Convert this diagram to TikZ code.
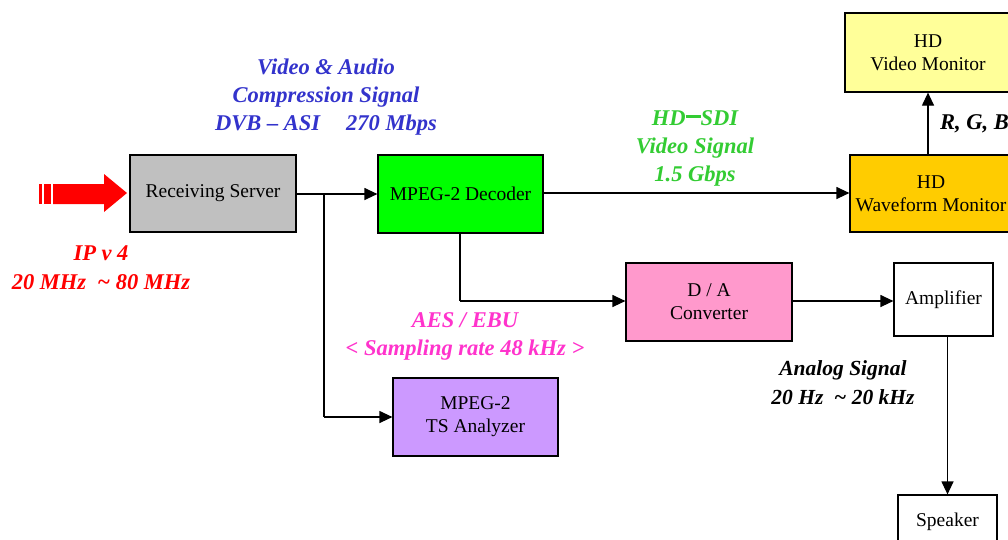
\documentclass[tikz,border=0pt]{standalone}
\usepackage{fontspec}
\setmainfont{Liberation Serif}
\usetikzlibrary{arrows.meta}
\definecolor{lblblue}{RGB}{51,51,204}
\definecolor{lblgreen}{RGB}{51,204,51}
\definecolor{lblpink}{RGB}{255,51,204}
\definecolor{fgray}{RGB}{192,192,192}
\definecolor{fgreen}{RGB}{0,255,0}
\definecolor{fpurple}{RGB}{204,153,255}
\definecolor{fpink}{RGB}{255,153,204}
\definecolor{fyellow}{RGB}{255,255,153}
\definecolor{fgold}{RGB}{255,204,0}
\tikzset{
  blk/.style={draw=black, line width=1.2pt, inner sep=0pt, align=center,
    font=\fontsize{19.5}{23}\selectfont},
  lbl/.style={align=center, inner sep=0pt,
    font=\fontsize{22.5}{28}\selectfont\bfseries\itshape},
  conn/.style={line width=1.2pt, -{Triangle[length=13pt,width=12pt]}},
  plain/.style={line width=1.2pt},
}
\begin{document}
\begin{tikzpicture}[x=1pt,y=-1pt]
\clip (0,0) rectangle (1008,539);
\fill[white] (0,0) rectangle (1008,539);

% boxes
\node[blk, fill=fgray, minimum width=166pt, minimum height=77pt] (rs) at (213,193.5) {Receiving Server};
\node[blk, fill=fgreen, minimum width=165pt, minimum height=78pt] (dec) at (460.5,194) {MPEG-2 Decoder};
\node[blk, fill=fpurple, minimum width=165pt, minimum height=78pt] (ts) at (475.5,417) {MPEG-2\\TS Analyzer};
\node[blk, fill=fpink, minimum width=166pt, minimum height=78pt] (da) at (709,302) {D / A\\Converter};
\node[blk, fill=white, minimum width=99pt, minimum height=73pt] (amp) at (943.5,299.5) {Amplifier};
\node[blk, fill=white, minimum width=99pt, minimum height=54pt] (spk) at (947.5,522) {Speaker};
\node[blk, fill=fyellow, minimum width=166pt, minimum height=79pt] (vm) at (928,52.5) {HD\\Video Monitor};
\node[blk, fill=fgold, minimum width=162pt, minimum height=77pt] (wf) at (931,193.5) {HD\\Waveform Monitor};

% red input arrow
\fill[red] (53,184) -- (104,184) -- (104,174) -- (127,193) -- (104,212) -- (104,204) -- (53,204) -- cycle;
\fill[red] (39,184) rectangle (42,204);
\fill[red] (43.5,184) rectangle (51,204);

% connectors
\coordinate (j1) at (324,194);
\draw[conn] (rs.east |- j1) -- (dec.west |- j1);
\draw[plain] (j1) -- (j1 |- ts.west);
\draw[conn] (j1 |- ts.west) -- (ts.west);
\coordinate (j2) at (460,301);
\draw[plain] (dec.south -| j2) -- (j2);
\draw[conn] (j2) -- (da.west |- j2);
\draw[conn] (dec.east |- 0,193) -- (wf.west |- 0,193);
\draw[conn] (vm.south |- wf.north) -- (vm.south);
\draw[conn] (da.east |- 0,301) -- (amp.west |- 0,301);
\draw[conn] (spk.north |- amp.south) -- (spk.north);

% labels
\node[lbl, text=lblblue] (lblue) at (326,97) {Video \& Audio\\Compression Signal\\DVB – ASI\hspace{26pt}270 Mbps};
\node[lbl, text=lblgreen] (lgreen) at (695,148) {HD\raisebox{7pt}{\rule{15pt}{3pt}}SDI\\Video Signal\\1.5 Gbps};
\node[lbl, text=lblpink] (lpink) at (465,336) {AES / EBU\\< Sampling rate 48 kHz >};
\node[lbl, text=black, font=\fontsize{21.5}{29}\selectfont\bfseries\itshape] (lanalog) at (843,383) {Analog Signal\\20 Hz \ \textasciitilde\ 20 kHz};
\node[lbl, text=red, font=\fontsize{22.5}{29}\selectfont\bfseries\itshape] (lred) at (101,268) {IP v 4\\20 MHz \ \textasciitilde\ 80 MHz};
\node[lbl, text=black, anchor=west] (lrgb) at (940,124) {R, G, B};
\end{tikzpicture}
\end{document}
